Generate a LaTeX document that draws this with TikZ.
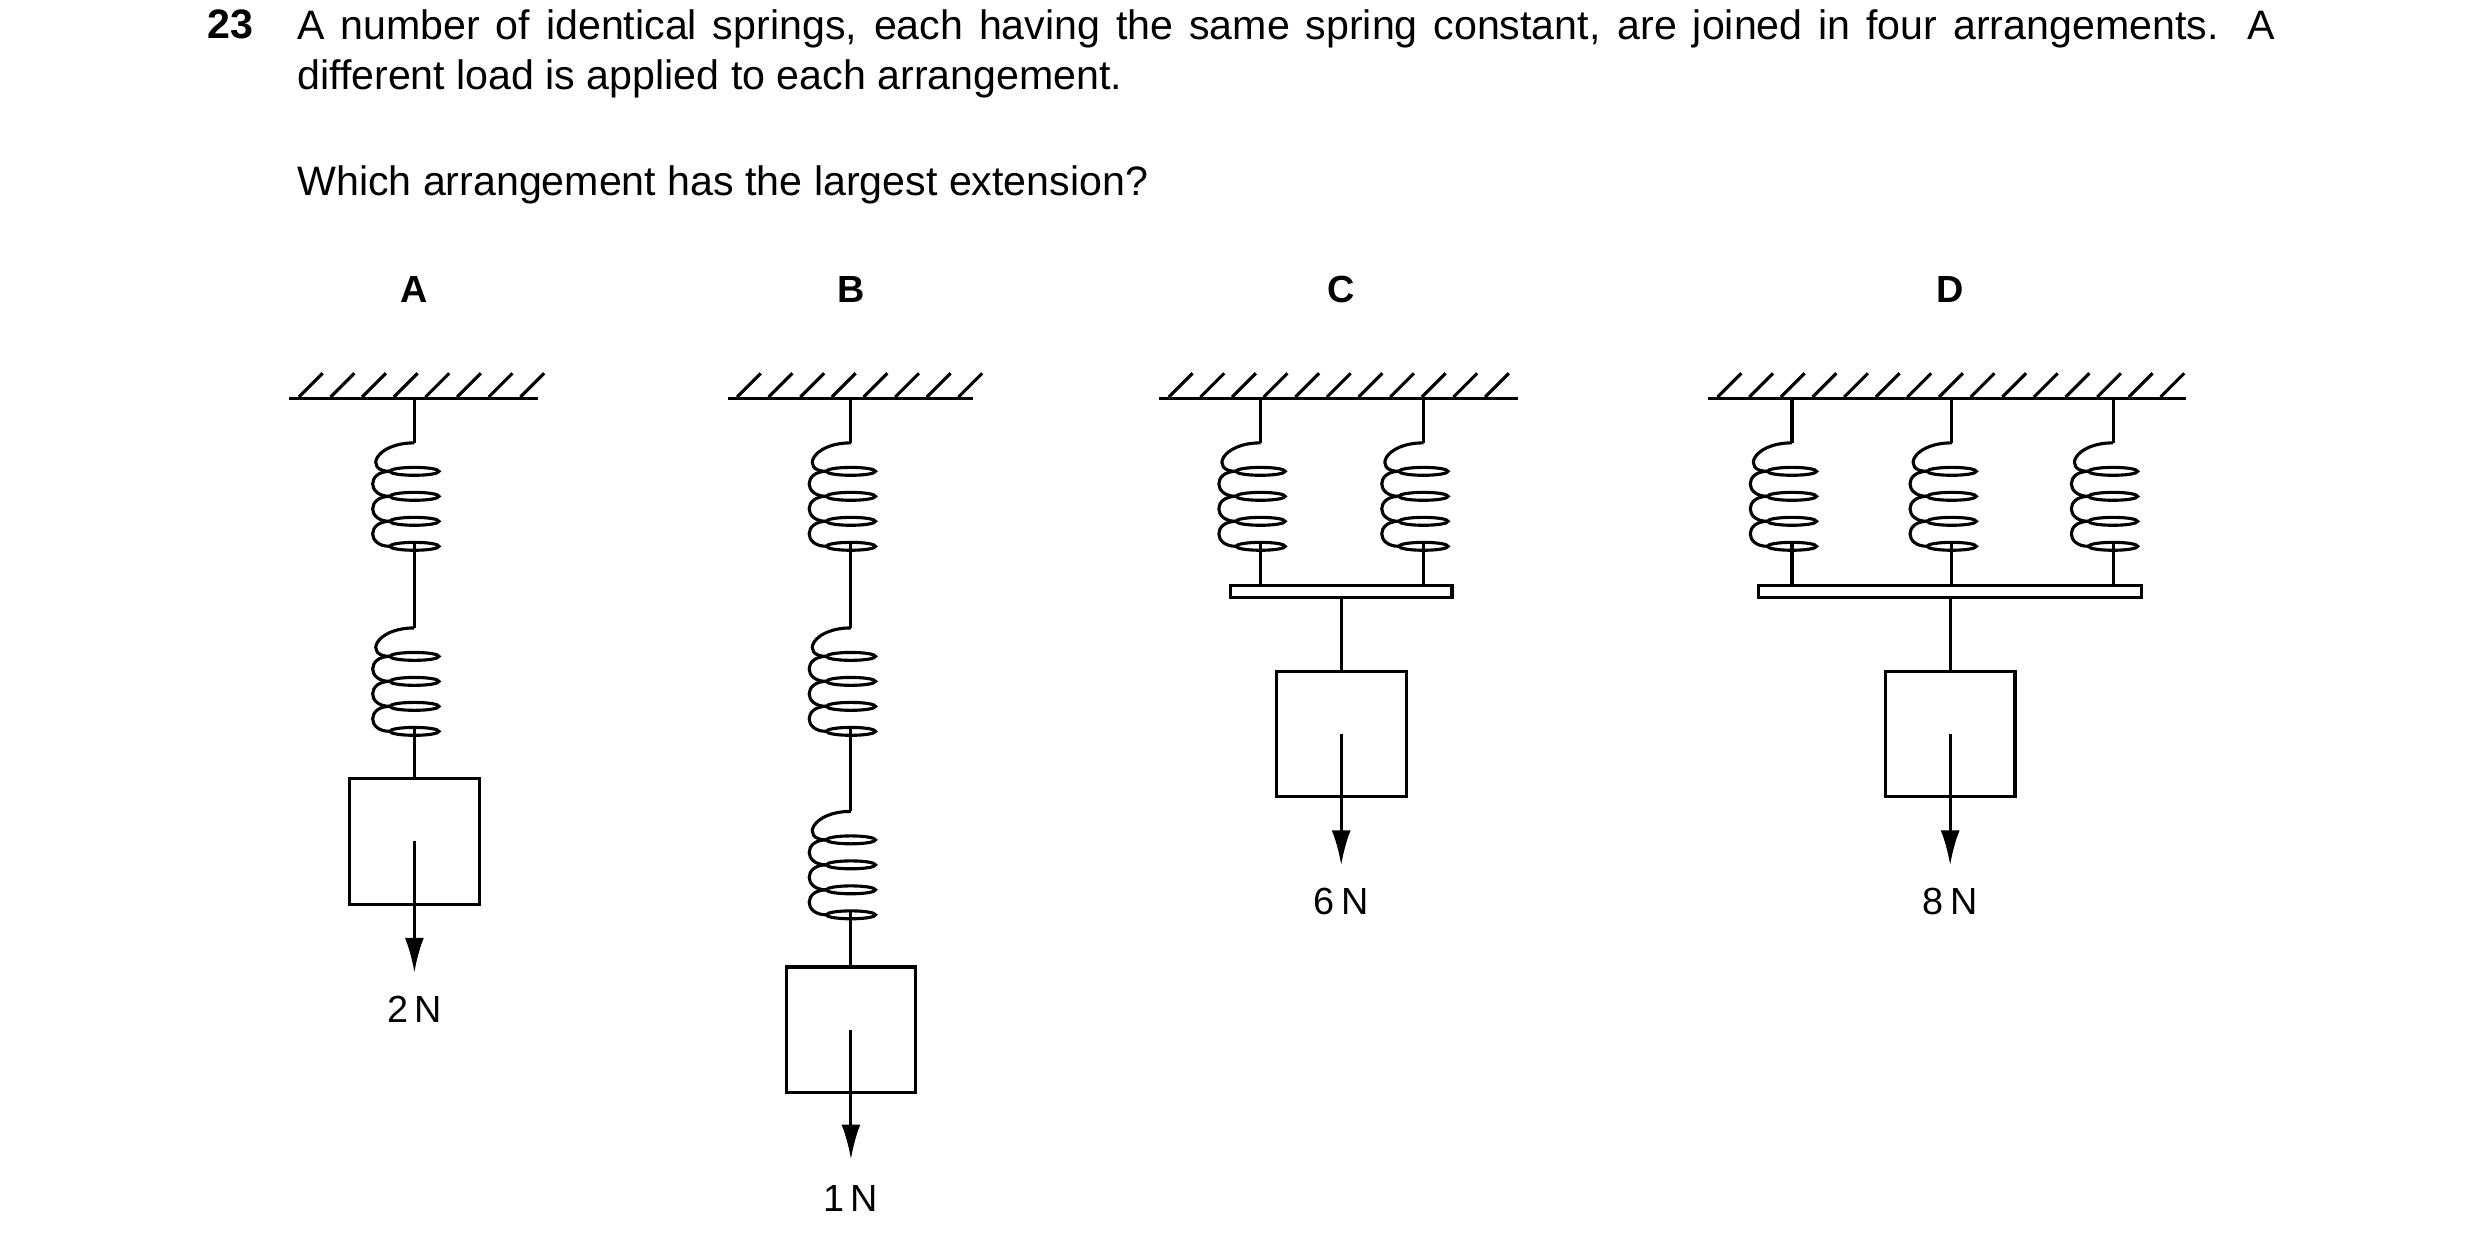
\documentclass[tikz,border=0pt]{standalone}
\usepackage{fontspec}
\setmainfont{Liberation Sans}
\usetikzlibrary{arrows.meta}
% one coil of the spring diagram: x, top y, name
\newcommand{\coil}[3]{%
\coordinate (#3t) at (#1,#2);
\coordinate (#3b) at (#1,#2+63);
\draw (#1,#2) .. controls (#1-25,#2) and (#1-32,#2+18) .. (#1-15.5,#2+18);
\foreach \k in {0,1,2}
  \draw (#1-15.5,#2+18+15.8*\k) .. controls (#1-30,#2+18+15.8*\k) and (#1-30,#2+33.8+15.8*\k) .. (#1-15.5,#2+33.8+15.8*\k);
\foreach \k in {0,1,2,3}
  \draw (#1,#2+18+15.8*\k) ellipse [x radius=15.5, y radius=2.5];
}
% ceiling with hatching: left, right, name
\newcommand{\ceiling}[3]{%
\draw (#1,252) -- (#2,252);
\foreach \h in {#1,...,#2} {}
\pgfmathsetmacro{\nh}{int((#2-#1-12)/20)}
\foreach \i in {0,...,\nh}
  \draw (#1+6+20*\i,251) -- (#1+21+20*\i,236);
}
\tikzset{
  load/.style={draw, minimum width=2.05cm, minimum height=1.98cm, inner sep=0pt},
  force/.style={-{Latex[length=0.55cm,width=0.3cm]}},
  lbl/.style={font=\fontsize{17}{20}\selectfont},
  head/.style={font=\fontsize{17}{20}\selectfont\bfseries}
}
\begin{document}
\begin{tikzpicture}[x={(0.025cm,0)}, y={(0,-0.025cm)}, line width=1.4pt]
\useasboundingbox (0,0) rectangle (1568,792);

\node[anchor=north west, inner sep=0pt, font=\fontsize{18.5}{22.7}\selectfont\bfseries] (num) at (130,5) {23};
\node[anchor=north west, inner sep=0pt, text width=31.25cm, align=justify, font=\fontsize{18.5}{22.7}\selectfont] (q) at (187,5) {A number of identical springs, each having the same spring constant, are joined in four arrangements. A different load is applied to each arrangement.};
\node[anchor=west, inner sep=0pt, font=\fontsize{18.5}{22.7}\selectfont] (ask) at (187,117) {Which arrangement has the largest extension?};

\node[head] (hA) at (262,183) {A};
\node[head] (hB) at (538,183) {B};
\node[head] (hC) at (848,183) {C};
\node[head] (hD) at (1233,183) {D};

% A
\ceiling{183}{340}{cA}
\coordinate (topA) at (262,252);
\coil{262}{280}{sA1}
\coil{262}{397}{sA2}
\node[load] (boxA) at (262,532) {};
\draw (topA) -- (sA1t);
\draw (sA1b) -- (sA2t);
\draw (sA2b) -- (boxA.north);
\coordinate (fA) at (262,615);
\draw[force] (boxA.center) -- (fA);
\node[lbl] (nA) at (262,638) {2\,N};

% B
\ceiling{460}{615}{cB}
\coordinate (topB) at (538,252);
\coil{538}{280}{sB1}
\coil{538}{397}{sB2}
\coil{538}{513}{sB3}
\node[load] (boxB) at (538,651) {};
\draw (topB) -- (sB1t);
\draw (sB1b) -- (sB2t);
\draw (sB2b) -- (sB3t);
\draw (sB3b) -- (boxB.north);
\coordinate (fB) at (538,733);
\draw[force] (boxB.center) -- (fB);
\node[lbl] (nB) at (538,758) {1\,N};

% C
\ceiling{733}{960}{cC}
\coil{797}{280}{sC1}
\coil{900}{280}{sC2}
\draw (797,252) -- (sC1t);
\draw (900,252) -- (sC2t);
\draw (sC1b) -- (797,370);
\draw (sC2b) -- (900,370);
\draw (778,370) rectangle (918,378);
\node[load] (boxC) at (848,464) {};
\draw (848,378) -- (boxC.north);
\coordinate (fC) at (848,547);
\draw[force] (boxC.center) -- (fC);
\node[lbl] (nC) at (848,570) {6\,N};

% D
\ceiling{1080}{1382}{cD}
\foreach \x [count=\n] in {1133,1234,1336} {
  \coil{\x}{280}{sD\n}
  \draw (\x,252) -- (sD\n t);
  \draw (sD\n b) -- (\x,370);
}
\draw (1112,370) rectangle (1354,378);
\node[load] (boxD) at (1233,464) {};
\draw (1233,378) -- (boxD.north);
\coordinate (fD) at (1233,547);
\draw[force] (boxD.center) -- (fD);
\node[lbl] (nD) at (1233,570) {8\,N};
\end{tikzpicture}
\end{document}
